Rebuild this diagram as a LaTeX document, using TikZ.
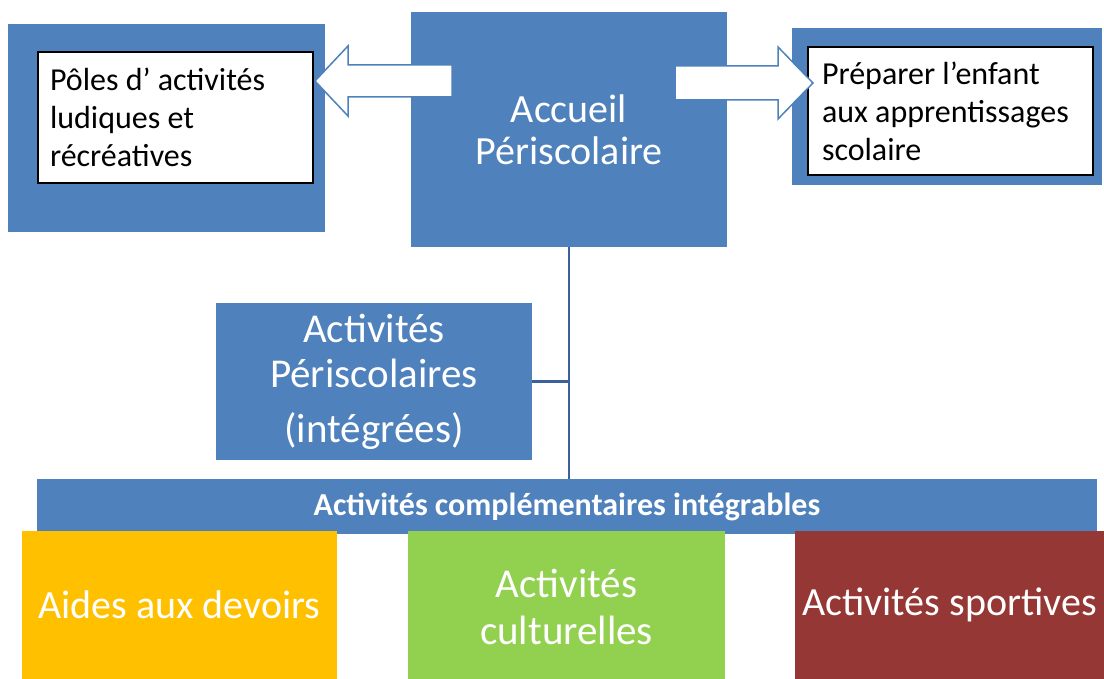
\documentclass[tikz,border=0pt]{standalone}
\usepackage{fontspec}
\setmainfont{Carlito}
\definecolor{bleuoffice}{HTML}{4F81BD}
\definecolor{traitbleu}{HTML}{3A619C}
\definecolor{jaune}{HTML}{FFC000}
\definecolor{vert}{HTML}{92D050}
\definecolor{bordeaux}{HTML}{953735}
\tikzset{
	bloc/.style={fill=bleuoffice,text=white,align=center,inner sep=0pt},
	cadre/.style={draw=black,line width=2pt,fill=white,align=flush left,inner sep=0pt,font={\fontsize{32}{38}\selectfont}},
	fleche/.style={draw=bleuoffice,line width=1.5pt,fill=white,line join=miter},
	lien/.style={draw=traitbleu,line width=2.5pt}
}
\begin{document}
\begin{tikzpicture}[x=1pt,y=-1pt]
	%	\draw[color=gray,dash pattern=on 1pt off 1pt,step=50pt] (0,0) grid (1104,679);
	\useasboundingbox (0,0) rectangle (1104,679);
	\node[bloc,minimum width=317pt,minimum height=208pt] (gauche) at (166.5,128) {};
	\node[cadre,minimum width=275pt,minimum height=131pt,text width=251pt] (poles) at (175.5,117.5) {Pôles d’ activités\\ludiques et\\récréatives};
	\node[bloc,minimum width=316pt,minimum height=235pt,font={\fontsize{40}{42}\selectfont}] (accueil) at (569,129.5) {Accueil\\Périscolaire};
	\node[bloc,minimum width=310pt,minimum height=157pt] (droite) at (947,106.5) {};
	\node[cadre,minimum width=285pt,minimum height=128pt,text width=257pt] (preparer) at (950.5,111) {Préparer l’enfant\\aux apprentissages\\scolaire};
	\node[bloc,minimum width=316pt,minimum height=157pt,font={\fontsize{41}{45}\selectfont}] (peri) at (374,381.5) {Activités\\Périscolaires\\[10pt](intégrées)};
	\node[bloc,minimum width=1060pt,minimum height=55pt,font={\fontsize{32}{34}\selectfont\bfseries}] (barre) at (567,506.5) {Activités complémentaires intégrables};
	\node[bloc,fill=jaune,minimum width=315pt,minimum height=148pt,font={\fontsize{40}{47}\selectfont}] (devoirs) at (179.5,605) {Aides aux devoirs};
	\node[bloc,fill=vert,minimum width=317pt,minimum height=152pt,font={\fontsize{41}{47}\selectfont}] (culture) at (566.5,607) {Activités\\culturelles};
	\node[bloc,fill=bordeaux,minimum width=309pt,minimum height=148pt,font={\fontsize{40}{47}\selectfont}] (sport) at (949.5,605) {Activités sportives};
	% liaisons
	\draw[lien] (accueil.south) -- (accueil.south |- barre.north);
	\draw[lien] (peri.east) -- (peri.east -| accueil.south);
	% fleches pleines
	\draw[fleche] (452,65) -- (348,65) -- (348,46) -- (315,81) -- (348,116) -- (348,97) -- (452,97) -- cycle;
	\draw[fleche] (675,66) -- (778,66) -- (778,47) -- (813,83) -- (778,119) -- (778,100) -- (675,100) -- cycle;
\end{tikzpicture}
\end{document}
